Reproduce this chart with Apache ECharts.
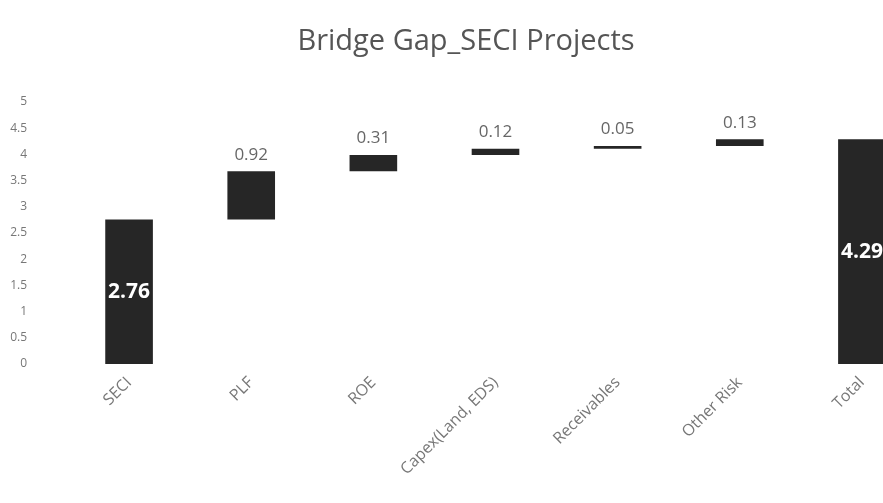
<!DOCTYPE html>
<html>
<head>
<meta charset="utf-8">
<script src="https://cdn.jsdelivr.net/npm/echarts@6/dist/echarts.min.js"></script>
<style>
  html, body { margin: 0; padding: 0; background: #fff; overflow: hidden; }
  #chart { width: 923px; height: 503px; }
</style>
</head>
<body>
<div id="chart"></div>
<script>
// bridge chart data
var categories = ['SECI', 'PLF', 'ROE', 'Capex(Land, EDS)', 'Receivables', 'Other Risk', 'Total'];
var steps = [2.76, 0.92, 0.31, 0.12, 0.05, 0.13];
var total = 4.29;

// invisible base under each floating step, total starts at 0
var base = [];
var values = [];
var run = 0;
for (var i = 0; i < steps.length; i++) {
	base.push(run);
	values.push(steps[i]);
	run += steps[i];
}
base.push(0);
values.push(total);

var insideIdx = [0, categories.length - 1];

// chart is a bit wider than the window, the Total bar gets cut at the edge
var myChart = echarts.init(document.getElementById('chart'));
var option = {
	animation: false,
	title: {
		text: 'Bridge Gap_SECI Projects',
		left: 461,
		top: 22,
		textAlign: 'center',
		textStyle: {
			fontFamily: 'Open Sans',
			fontWeight: 'normal',
			fontSize: 29,
			color: '#555'
		}
	},
	grid: {
		left: 68,
		right: 0,
		top: 102,
		bottom: 139
	},
	xAxis: {
		type: 'category',
		data: categories,
		axisLine: { show: false },
		axisTick: { show: false },
		axisLabel: {
			rotate: 45,
			margin: 16,
			fontFamily: 'Open Sans',
			fontSize: 16,
			color: '#777',
			interval: 0
		}
	},
	yAxis: {
		type: 'value',
		min: 0,
		max: 5,
		interval: 0.5,
		splitLine: { show: false },
		axisLine: { show: false },
		axisTick: { show: false },
		axisLabel: {
			margin: 41,
			fontFamily: 'Open Sans',
			fontSize: 12,
			color: '#777'
		}
	},
	series: [{
		name: 'base',
		type: 'bar',
		stack: 'bridge',
		barWidth: '39%',
		itemStyle: { color: 'transparent' },
		data: base
	}, {
		name: 'value',
		type: 'bar',
		stack: 'bridge',
		barWidth: '39%',
		itemStyle: { color: '#262626' },
		data: values.map(function (v, i) {
			var inside = insideIdx.indexOf(i) >= 0;
			return {
				value: v,
				label: inside ? {
					show: true,
					position: 'inside',
					color: '#fff',
					fontWeight: 'bold',
					fontSize: 21,
					fontFamily: 'Open Sans'
				} : {
					show: true,
					position: 'top',
					distance: 8,
					color: '#666',
					fontSize: 17,
					fontFamily: 'Open Sans'
				}
			};
		})
	}]
};
myChart.setOption(option);
</script>
</body>
</html>
